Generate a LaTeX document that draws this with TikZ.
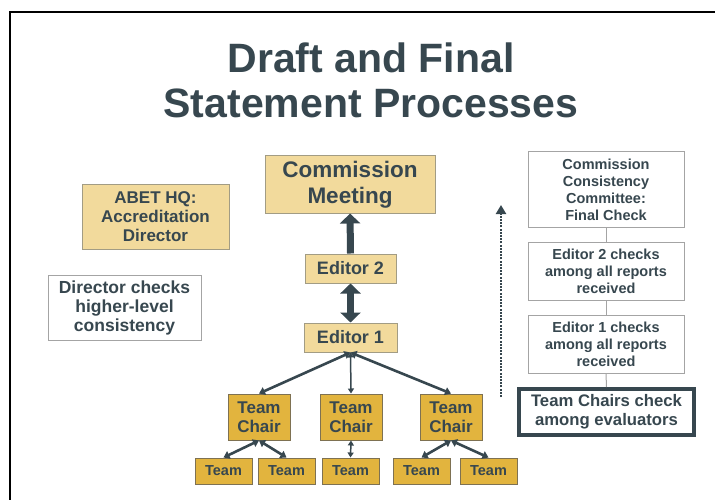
\documentclass[tikz,border=0pt]{standalone}
\usepackage{fontspec}
\setmainfont{Liberation Sans}
\usepackage{tikz}
\usetikzlibrary{arrows.meta, positioning}
\definecolor{colorSlate}{HTML}{37474F}
\definecolor{colorTan}{HTML}{F2DA9C}
\definecolor{colorTanLine}{HTML}{A29C84}
\definecolor{colorGold}{HTML}{E2B43E}
\definecolor{colorGoldLine}{HTML}{7E7152}
\definecolor{colorGreyLine}{HTML}{A4A4A4}
\tikzset{
  tanbox/.style={draw=colorTanLine, fill=colorTan, line width=1pt, align=center, inner sep=0pt, text=colorSlate, font=\bfseries},
  goldbox/.style={draw=colorGoldLine, fill=colorGold, line width=1pt, align=center, inner sep=0pt, text=colorSlate, font=\bfseries},
  notebox/.style={draw=colorGreyLine, fill=white, line width=1pt, align=center, inner sep=0pt, text=colorSlate, font=\bfseries},
  bigarrow/.style={colorSlate, line width=7pt, {Triangle[length=10pt,width=20pt]}-{Triangle[length=10pt,width=20pt]}},
  link/.style={colorSlate, line width=2.6pt, {Triangle[length=6pt,width=8pt]}-{Triangle[length=6pt,width=8pt]}},
  thinlink/.style={colorSlate, line width=1.5pt, {Triangle[length=5pt,width=6pt]}-{Triangle[length=5pt,width=6pt]}}
}
\newcommand{\fs}[2]{\fontsize{#1}{#2}\selectfont}

\begin{document}
\begin{tikzpicture}[x=1pt, y=-1pt]
\useasboundingbox (0,0) rectangle (715,500);
\draw [black, line width=2pt] (10,500) -- (10,12) -- (715,12);
\node[text=colorSlate, font=\bfseries\fs{41}{45}, align=center] (title) at (371,80) {Draft and Final\\Statement Processes};
% left side
\node[tanbox, minimum width=170pt, minimum height=57pt, font=\bfseries\fs{22.5}{26}] (cm) at (350,184.5) {Commission\\Meeting};
\node[tanbox, minimum width=147pt, minimum height=65pt, font=\bfseries\fs{17}{19}] (hq) at (155.5,216.5) {ABET HQ:\\Accreditation\\Director};
\node[notebox, minimum width=153pt, minimum height=65pt, font=\bfseries\fs{17.5}{19}] (dirchk) at (124.5,307.5) {Director checks\\higher-level\\consistency};
\node[tanbox, minimum width=91pt, minimum height=29pt, font=\bfseries\fs{18}{20}] (ed2) at (350.5,268.5) {Editor 2};
\node[tanbox, minimum width=93pt, minimum height=29pt, font=\bfseries\fs{18}{20}] (ed1) at (350.5,337.5) {Editor 1};
\node[goldbox, minimum width=62pt, minimum height=46pt, font=\bfseries\fs{17}{19}] (chL) at (259,417) {Team\\Chair};
\node[goldbox, minimum width=62pt, minimum height=46pt, font=\bfseries\fs{17}{19}] (chC) at (351,417) {Team\\Chair};
\node[goldbox, minimum width=62pt, minimum height=46pt, font=\bfseries\fs{17}{19}] (chR) at (451,417) {Team\\Chair};
\foreach \n/\x in {tm1/223.5, tm2/286.5, tm3/350.5, tm4/421.5, tm5/488.5}
  \node[goldbox, minimum width=57pt, minimum height=26pt, font=\bfseries\fs{14.5}{16}] (\n) at (\x,471) {Team};
\draw [colorSlate, line width=7pt, -{Triangle[length=10pt,width=20pt]}] (ed2.north) -- (cm.south);
\draw [bigarrow] (ed1.north) -- (ed2.south);
\draw [link] (ed1.south) -- (chL.north);
\draw [thinlink] (ed1.south) -- (chC.north);
\draw [link] (ed1.south) -- (chR.north);
\draw [link] (chL.south) -- (tm1.north);
\draw [link] (chL.south) -- (tm2.north);
\draw [thinlink] (chC.south) -- (tm3.north);
\draw [link] (chR.south) -- (tm4.north);
\draw [link] (chR.south) -- (tm5.north);
% right side
\node[notebox, minimum width=156pt, minimum height=75pt, font=\bfseries\fs{14.5}{17}] (ccc) at (606,189.5) {Commission\\Consistency\\Committee:\\Final Check};
\node[notebox, minimum width=156pt, minimum height=58pt, font=\bfseries\fs{14.5}{17}] (ed2chk) at (606,271) {Editor 2 checks\\among all reports\\received};
\node[notebox, minimum width=156pt, minimum height=58pt, font=\bfseries\fs{14.5}{17}] (ed1chk) at (606,344) {Editor 1 checks\\among all reports\\received};
\node[notebox, draw=colorSlate, line width=4pt, minimum width=175pt, minimum height=46pt, font=\bfseries\fs{16.7}{19}] (tcchk) at (606.5,412) {Team Chairs check\\among evaluators};
\draw [colorGreyLine, line width=1pt] (ccc.south) -- (ed2chk.north);
\draw [colorGreyLine, line width=1pt] (ed2chk.south) -- (ed1chk.north);
\draw [colorGreyLine, line width=1pt] (ed1chk.south) -- (tcchk.north);
\coordinate (dotlow) at (501,397);
\coordinate (dottop) at (501,205);
\draw [colorSlate, line width=2.4pt, dash pattern=on 2pt off 1.2pt, -{Triangle[length=9pt,width=10pt]}] (dotlow) -- (dottop);
\end{tikzpicture}
\end{document}
